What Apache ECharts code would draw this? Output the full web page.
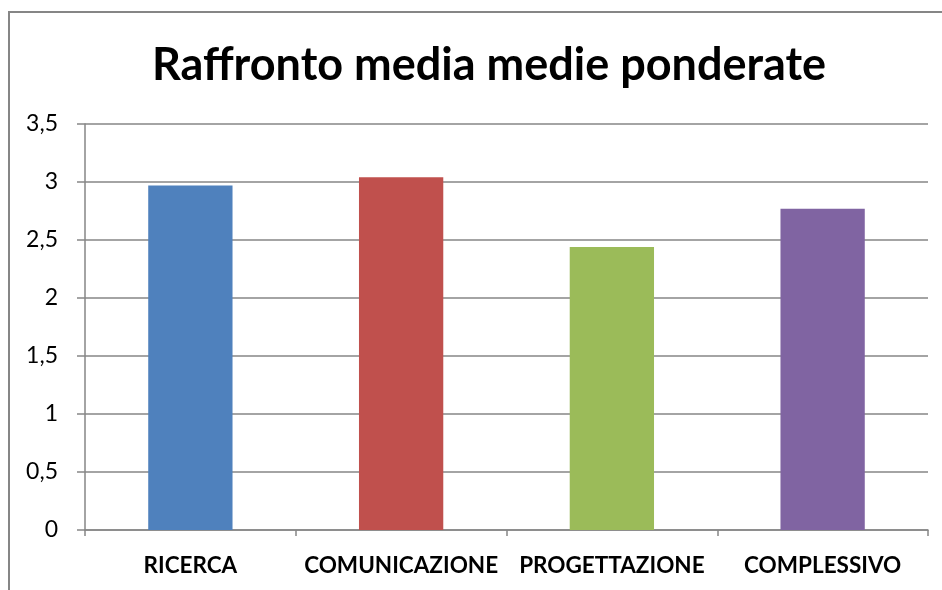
<!DOCTYPE html>
<html><head><meta charset="utf-8">
<script src="https://cdn.jsdelivr.net/npm/echarts@6/dist/echarts.min.js"></script>
<style>html,body{margin:0;padding:0;background:#fff}#c{width:942px;height:590px}</style>
</head><body><div id="c"></div>
<script>
const titleText = 'Raffronto media medie ponderate';
const categories = ['RICERCA', 'COMUNICAZIONE', 'PROGETTAZIONE', 'COMPLESSIVO'];
const values = [2.97, 3.04, 2.44, 2.77];
const barColors = ['#4F81BD', '#C0504D', '#9BBB59', '#8064A2'];
const yMin = 0, yMax = 3.5, yStep = 0.5;

const chart = echarts.init(document.getElementById('c'), null, {renderer: 'canvas'});
const gray = '#868686';
chart.setOption({
  animation: false,
  backgroundColor: '#fff',
  textStyle: {fontFamily: 'Lato'},
  title: {
    text: titleText, left: 484, top: 38, textAlign: 'center',
    textStyle: {fontFamily: 'Lato', fontWeight: 'bold', fontSize: 45, color: '#000'}
  },
  graphic: [{
    type: 'rect', shape: {x: 9, y: 12, width: 1200, height: 900},
    style: {fill: 'none', stroke: gray, lineWidth: 2}, silent: true, z: -1
  }],
  grid: {left: 85, right: 14, top: 124, bottom: 60, containLabel: false},
  xAxis: {
    type: 'category', data: categories,
    axisLine: {lineStyle: {color: gray, width: 1.5}},
    axisTick: {show: true, length: 6, lineStyle: {color: gray, width: 1.5}},
    axisLabel: {fontFamily: 'Lato', fontWeight: 'bold', fontSize: 22.5, color: '#000', margin: 24, interval: 0}
  },
  yAxis: {
    type: 'value', min: yMin, max: yMax, interval: yStep,
    axisLine: {show: true, lineStyle: {color: gray, width: 1.5}},
    axisTick: {show: true, length: 8, lineStyle: {color: gray, width: 1.5}},
    splitLine: {lineStyle: {color: gray, width: 1.5}},
    axisLabel: {fontFamily: 'Lato', fontSize: 23, color: '#000', margin: 27,
      formatter: v => String(v).replace('.', ',')}
  },
  series: [{
    type: 'bar', barWidth: '40%',
    data: values.map((v, i) => ({value: v, itemStyle: {color: barColors[i]}}))
  }]
});
</script></body></html>
